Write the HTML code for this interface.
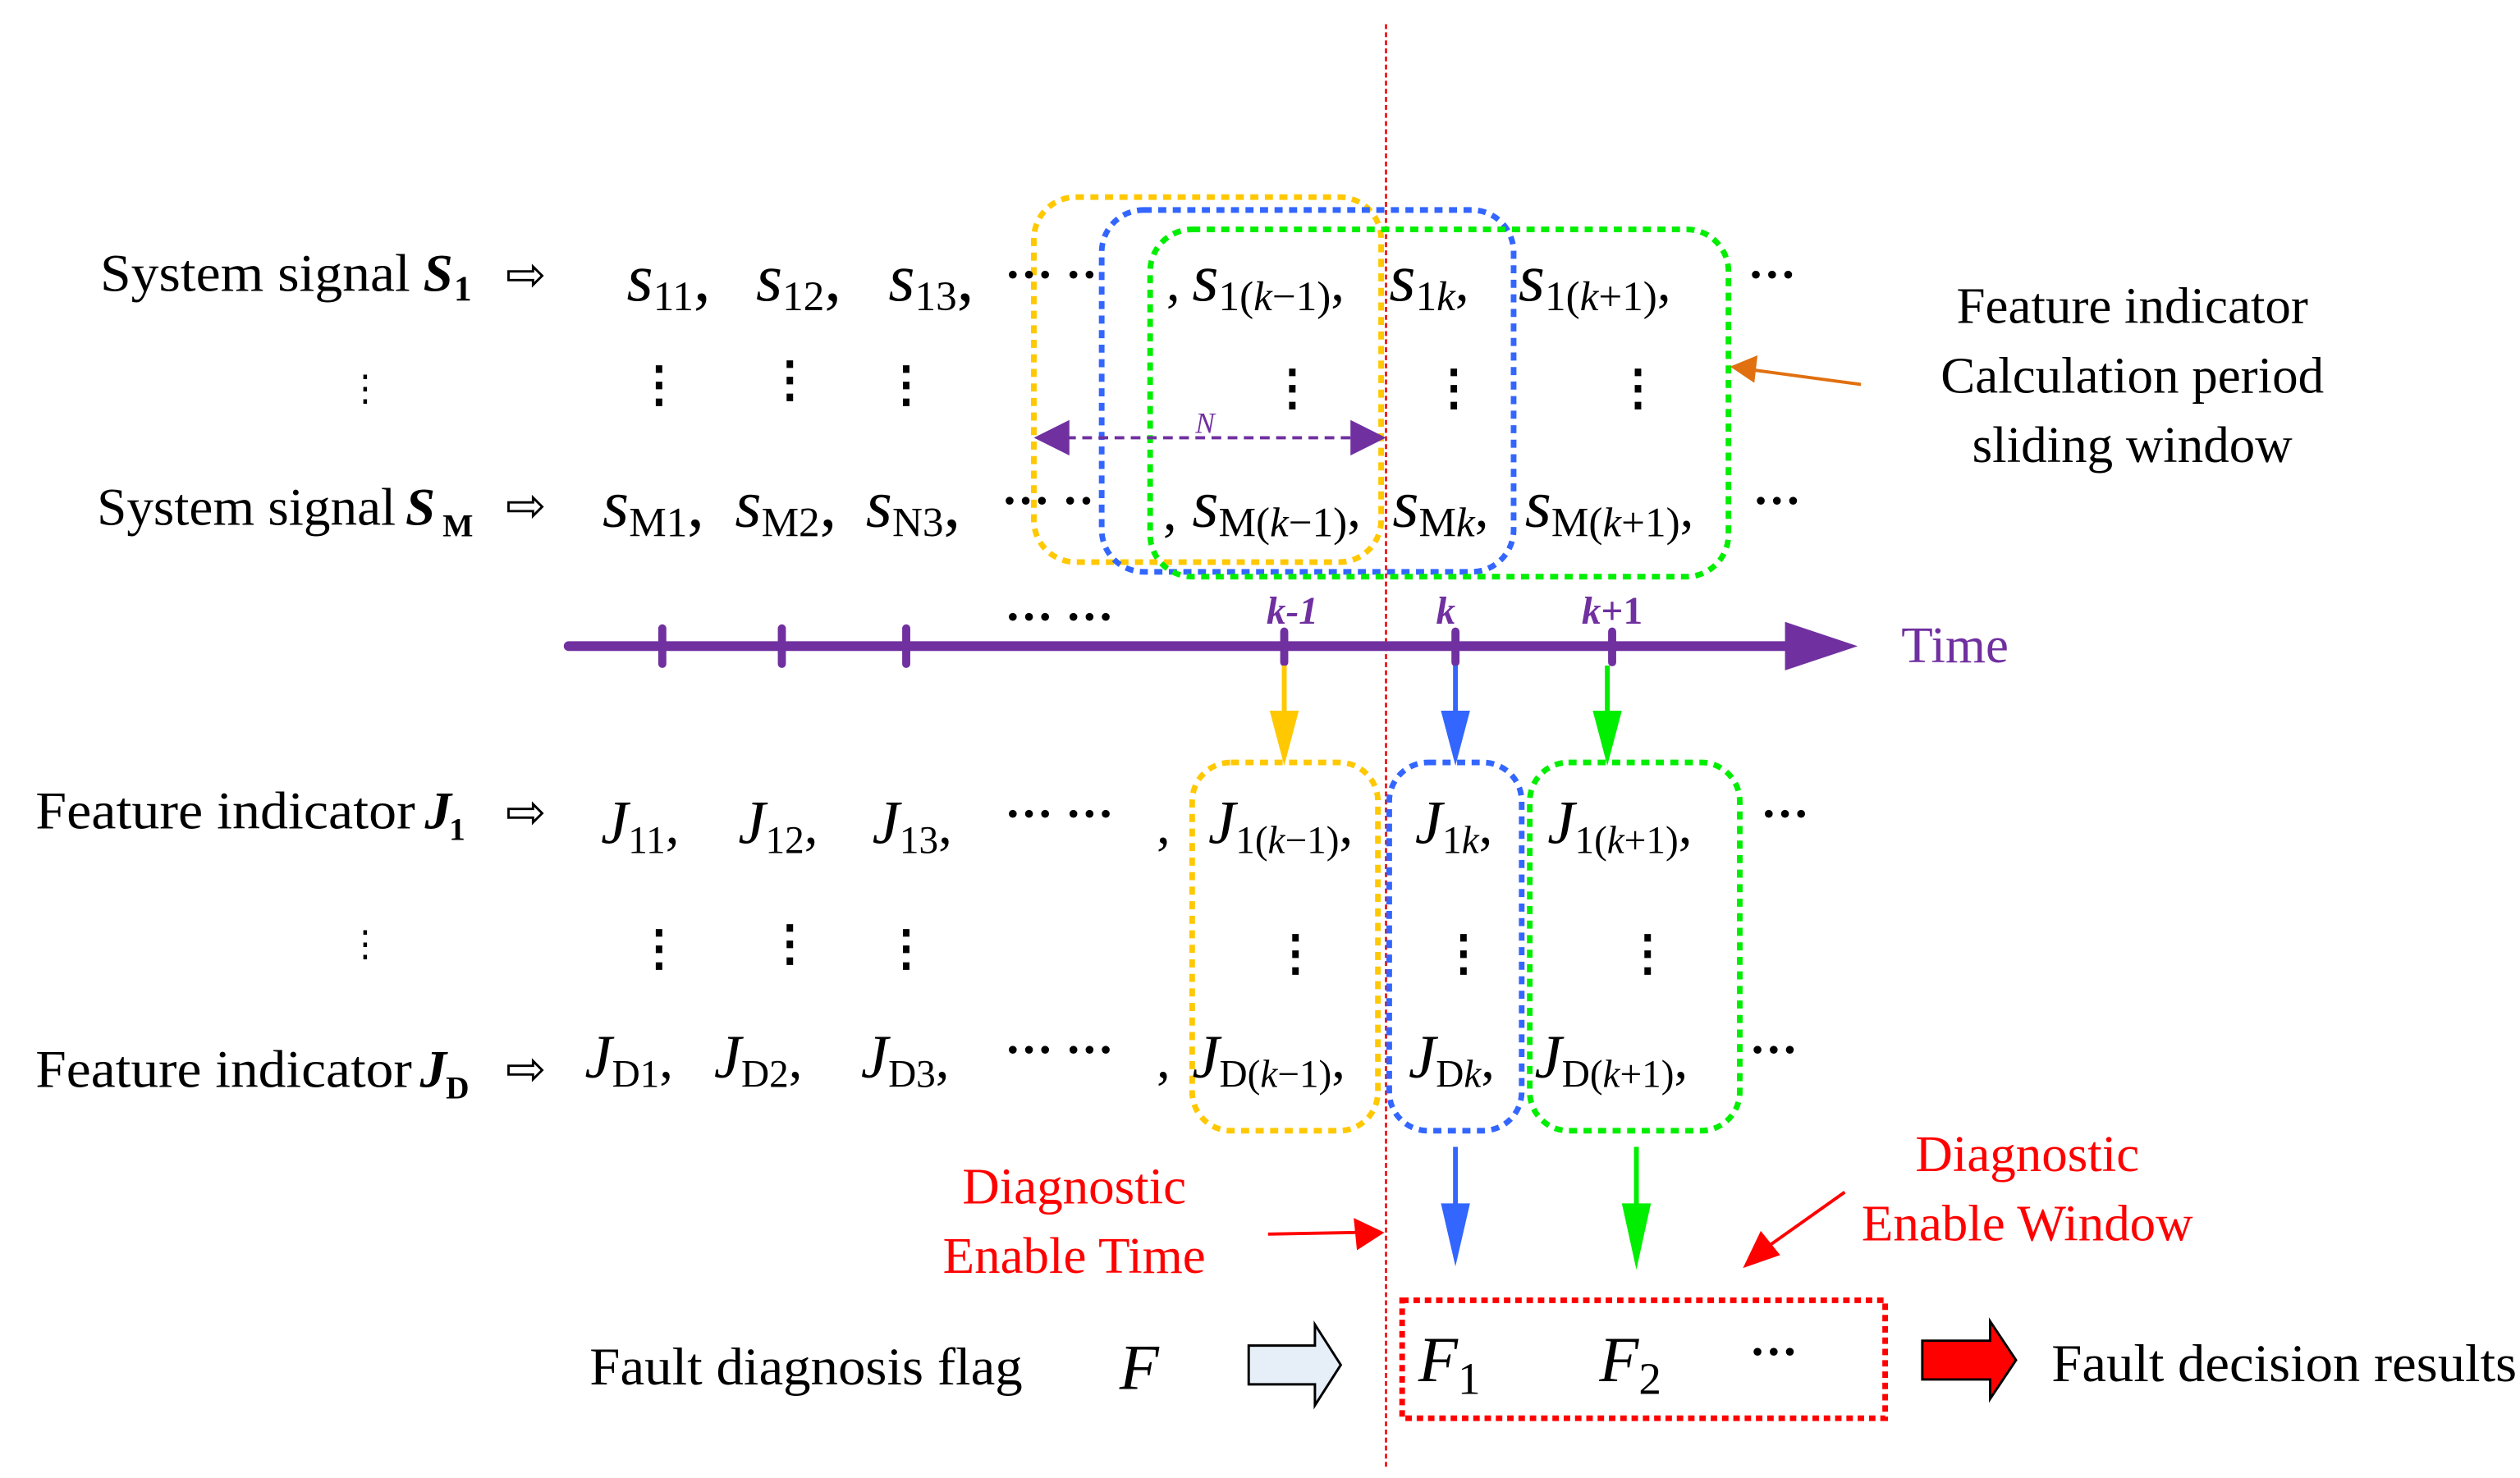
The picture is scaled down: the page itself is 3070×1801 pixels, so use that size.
<!DOCTYPE html>
<html><head><meta charset="utf-8"><style>
html,body{margin:0;padding:0;background:#fff;}
svg{display:block;}
text{font-family:"Liberation Serif",serif;}
</style></head><body>
<svg width="3070" height="1801" viewBox="0 0 1560 915" preserveAspectRatio="none" xmlns="http://www.w3.org/2000/svg">
<!-- red vertical dotted line -->
<line x1="858" y1="15" x2="858" y2="908" stroke="#e00" stroke-width="1.3" stroke-dasharray="3,2"/>

<!-- sliding windows -->
<rect x="640" y="122" width="215" height="226" rx="26" fill="none" stroke="#ffc800" stroke-width="3.5" stroke-dasharray="5,4"/>
<rect x="682" y="130" width="255" height="224" rx="26" fill="none" stroke="#3366ff" stroke-width="3.5" stroke-dasharray="5,4"/>
<rect x="712" y="142" width="358" height="215" rx="26" fill="none" stroke="#00ee00" stroke-width="3.5" stroke-dasharray="5,4"/>

<!-- N arrow -->
<line x1="660" y1="271" x2="838" y2="271" stroke="#7030a0" stroke-width="2" stroke-dasharray="6,4"/>
<polygon points="640,271 662,260 662,282" fill="#7030a0"/>
<polygon points="858,271 836,260 836,282" fill="#7030a0"/>
<text x="746" y="268" font-size="18" font-style="italic" fill="#7030a0" text-anchor="middle">N</text>

<!-- orange arrow -->
<line x1="1152" y1="238" x2="1085" y2="229" stroke="#e07010" stroke-width="2"/>
<polygon points="1071,227 1088,220 1086,237" fill="#e07010"/>

<!-- left labels S -->
<text x="62" y="180" font-size="33" textLength="192" lengthAdjust="spacingAndGlyphs">System signal</text>
<text x="262" y="180" font-size="33" font-weight="bold" font-style="italic">S</text><text x="281" y="186" font-size="22" font-weight="bold">1</text>
<text x="60" y="325" font-size="33" textLength="185" lengthAdjust="spacingAndGlyphs">System signal</text>
<text x="251" y="325" font-size="33" font-weight="bold" font-style="italic">S</text><text x="274" y="332" font-size="20" font-weight="bold">M</text>
<text x="313" y="180" font-size="30">⇨</text>
<text x="313" y="323" font-size="30">⇨</text>
<text x="215" y="248" font-size="22">⋮</text>

<!-- s row 1 -->
<g font-size="42">
<text x="388" y="186"><tspan font-style="italic">s</tspan><tspan font-size="26" dy="6">11</tspan><tspan dy="-6">,</tspan></text>
<text x="468" y="186"><tspan font-style="italic">s</tspan><tspan font-size="26" dy="6">12</tspan><tspan dy="-6">,</tspan></text>
<text x="550" y="186"><tspan font-style="italic">s</tspan><tspan font-size="26" dy="6">13</tspan><tspan dy="-6">,</tspan></text>
<text x="622" y="180" font-weight="bold" font-size="30">··· ··</text>
<text x="722" y="186" font-size="34">,</text>
<text x="738" y="186"><tspan font-style="italic">s</tspan><tspan font-size="26" dy="6">1(</tspan><tspan font-size="26" font-style="italic">k</tspan><tspan font-size="26">−1)</tspan><tspan font-size="34" dy="-6">,</tspan></text>
<text x="860" y="186"><tspan font-style="italic">s</tspan><tspan font-size="26" dy="6">1</tspan><tspan font-size="26" font-style="italic">k</tspan><tspan font-size="34" dy="-6">,</tspan></text>
<text x="940" y="186"><tspan font-style="italic">s</tspan><tspan font-size="26" dy="6">1(</tspan><tspan font-size="26" font-style="italic">k</tspan><tspan font-size="26">+1)</tspan><tspan font-size="34" dy="-6">,</tspan></text>
<text x="1082" y="180" font-weight="bold" font-size="30">···</text>
</g>
<g font-size="30" font-weight="bold">
<text x="393" y="248">⋮</text><text x="474" y="245">⋮</text><text x="546" y="248">⋮</text>
<text x="785" y="250">⋮</text><text x="885" y="250">⋮</text><text x="999" y="250">⋮</text>
</g>
<!-- s row M -->
<g font-size="42">
<text x="373" y="326"><tspan font-style="italic">s</tspan><tspan font-size="26" dy="6">M1</tspan><tspan dy="-6">,</tspan></text>
<text x="455" y="326"><tspan font-style="italic">s</tspan><tspan font-size="26" dy="6">M2</tspan><tspan dy="-6">,</tspan></text>
<text x="536" y="326"><tspan font-style="italic">s</tspan><tspan font-size="26" dy="6">N3</tspan><tspan dy="-6">,</tspan></text>
<text x="620" y="320" font-weight="bold" font-size="30">··· ··</text>
<text x="720" y="328" font-size="34">,</text>
<text x="738" y="326"><tspan font-style="italic">s</tspan><tspan font-size="26" dy="6">M(</tspan><tspan font-size="26" font-style="italic">k</tspan><tspan font-size="26">−1)</tspan><tspan font-size="34" dy="-6">,</tspan></text>
<text x="862" y="326"><tspan font-style="italic">s</tspan><tspan font-size="26" dy="6">M</tspan><tspan font-size="26" font-style="italic">k</tspan><tspan font-size="34" dy="-6">,</tspan></text>
<text x="944" y="326"><tspan font-style="italic">s</tspan><tspan font-size="26" dy="6">M(</tspan><tspan font-size="26" font-style="italic">k</tspan><tspan font-size="26">+1)</tspan><tspan font-size="34" dy="-6">,</tspan></text>
<text x="1085" y="320" font-weight="bold" font-size="30">···</text>
</g>

<!-- right text -->
<g font-size="32" text-anchor="middle">
<text x="1320" y="200">Feature indicator</text>
<text x="1320" y="243">Calculation period</text>
<text x="1320" y="286">sliding window</text>
</g>

<!-- time axis -->
<line x1="352" y1="400" x2="1110" y2="400" stroke="#7030a0" stroke-width="6" stroke-linecap="round"/>
<polygon points="1105,385 1150,400 1105,415" fill="#7030a0"/>
<g stroke="#7030a0" stroke-width="5" stroke-linecap="round">
<line x1="410" y1="389" x2="410" y2="411"/><line x1="484" y1="389" x2="484" y2="411"/><line x1="561" y1="389" x2="561" y2="411"/>
<line x1="795" y1="391" x2="795" y2="410"/><line x1="901" y1="391" x2="901" y2="410"/><line x1="998" y1="391" x2="998" y2="410"/>
</g>
<text x="622" y="392" font-weight="bold" font-size="30">··· ···</text>
<g fill="#7030a0" font-size="24" font-weight="bold" font-style="italic" text-anchor="middle">
<text x="800" y="386">k-1</text><text x="895" y="386">k</text><text x="998" y="386"><tspan>k</tspan><tspan font-style="normal">+1</tspan></text>
</g>
<text x="1177" y="410" font-size="32" fill="#7030a0">Time</text>

<!-- down arrows -->
<line x1="795" y1="412" x2="795" y2="445" stroke="#ffc800" stroke-width="3"/>
<polygon points="786,440 804,440 795,474" fill="#ffc800"/>
<line x1="901" y1="412" x2="901" y2="445" stroke="#3366ff" stroke-width="3"/>
<polygon points="892,440 910,440 901,474" fill="#3366ff"/>
<line x1="995" y1="412" x2="995" y2="445" stroke="#00ee00" stroke-width="3"/>
<polygon points="986,440 1004,440 995,474" fill="#00ee00"/>

<!-- J boxes -->
<rect x="738" y="472" width="115" height="228" rx="24" fill="none" stroke="#ffc800" stroke-width="3.5" stroke-dasharray="5,4"/>
<rect x="860" y="472" width="82" height="228" rx="24" fill="none" stroke="#3366ff" stroke-width="3.5" stroke-dasharray="5,4"/>
<rect x="947" y="472" width="130" height="228" rx="24" fill="none" stroke="#00ee00" stroke-width="3.5" stroke-dasharray="5,4"/>

<!-- J labels -->
<text x="22" y="513" font-size="33" textLength="235" lengthAdjust="spacingAndGlyphs">Feature indicator</text>
<text x="263" y="513" font-size="33" font-weight="bold" font-style="italic">J</text><text x="278" y="520" font-size="20" font-weight="bold">1</text>
<text x="22" y="673" font-size="33" textLength="233" lengthAdjust="spacingAndGlyphs">Feature indicator</text>
<text x="260" y="673" font-size="33" font-weight="bold" font-style="italic">J</text><text x="276" y="680" font-size="20" font-weight="bold">D</text>
<text x="313" y="513" font-size="30">⇨</text>
<text x="313" y="672" font-size="30">⇨</text>
<text x="215" y="592" font-size="22">⋮</text>

<g font-size="38">
<text x="372" y="522"><tspan font-style="italic">J</tspan><tspan font-size="24" dy="6">11</tspan><tspan font-size="34" dy="-6">,</tspan></text>
<text x="457" y="522"><tspan font-style="italic">J</tspan><tspan font-size="24" dy="6">12</tspan><tspan font-size="34" dy="-6">,</tspan></text>
<text x="540" y="522"><tspan font-style="italic">J</tspan><tspan font-size="24" dy="6">13</tspan><tspan font-size="34" dy="-6">,</tspan></text>
<text x="622" y="514" font-weight="bold" font-size="30">··· ···</text>
<text x="716" y="522" font-size="34">,</text>
<text x="748" y="522"><tspan font-style="italic">J</tspan><tspan font-size="24" dy="6">1(</tspan><tspan font-size="24" font-style="italic">k</tspan><tspan font-size="24">−1)</tspan><tspan font-size="34" dy="-6">,</tspan></text>
<text x="876" y="522"><tspan font-style="italic">J</tspan><tspan font-size="24" dy="6">1</tspan><tspan font-size="24" font-style="italic">k</tspan><tspan font-size="34" dy="-6">,</tspan></text>
<text x="958" y="522"><tspan font-style="italic">J</tspan><tspan font-size="24" dy="6">1(</tspan><tspan font-size="24" font-style="italic">k</tspan><tspan font-size="24">+1)</tspan><tspan font-size="34" dy="-6">,</tspan></text>
<text x="1090" y="514" font-weight="bold" font-size="30">···</text>

<text x="362" y="667"><tspan font-style="italic">J</tspan><tspan font-size="24" dy="6">D1</tspan><tspan font-size="34" dy="-6">,</tspan></text>
<text x="442" y="667"><tspan font-style="italic">J</tspan><tspan font-size="24" dy="6">D2</tspan><tspan font-size="34" dy="-6">,</tspan></text>
<text x="533" y="667"><tspan font-style="italic">J</tspan><tspan font-size="24" dy="6">D3</tspan><tspan font-size="34" dy="-6">,</tspan></text>
<text x="622" y="660" font-weight="bold" font-size="30">··· ···</text>
<text x="716" y="667" font-size="34">,</text>
<text x="738" y="667"><tspan font-style="italic">J</tspan><tspan font-size="24" dy="6">D(</tspan><tspan font-size="24" font-style="italic">k</tspan><tspan font-size="24">−1)</tspan><tspan font-size="34" dy="-6">,</tspan></text>
<text x="872" y="667"><tspan font-style="italic">J</tspan><tspan font-size="24" dy="6">D</tspan><tspan font-size="24" font-style="italic">k</tspan><tspan font-size="34" dy="-6">,</tspan></text>
<text x="950" y="667"><tspan font-style="italic">J</tspan><tspan font-size="24" dy="6">D(</tspan><tspan font-size="24" font-style="italic">k</tspan><tspan font-size="24">+1)</tspan><tspan font-size="34" dy="-6">,</tspan></text>
<text x="1083" y="660" font-weight="bold" font-size="30">···</text>
</g>
<g font-size="30" font-weight="bold">
<text x="393" y="597">⋮</text><text x="474" y="594">⋮</text><text x="546" y="597">⋮</text>
<text x="787" y="600">⋮</text><text x="891" y="600">⋮</text><text x="1005" y="600">⋮</text>
</g>

<!-- lower arrows -->
<line x1="901" y1="710" x2="901" y2="750" stroke="#3366ff" stroke-width="3"/>
<polygon points="892,745 910,745 901,784" fill="#3366ff"/>
<line x1="1013" y1="710" x2="1013" y2="750" stroke="#00ee00" stroke-width="3"/>
<polygon points="1004,745 1022,745 1013,786" fill="#00ee00"/>

<!-- red annotations -->
<g fill="#ff0000" font-size="32" text-anchor="middle">
<text x="665" y="745">Diagnostic</text>
<text x="665" y="788">Enable Time</text>
<text x="1255" y="725">Diagnostic</text>
<text x="1255" y="768">Enable Window</text>
</g>
<line x1="785" y1="764" x2="840" y2="763" stroke="#f00" stroke-width="2"/>
<polygon points="857,763 838,754 840,774" fill="#f00"/>
<line x1="1142" y1="738" x2="1094" y2="772" stroke="#f00" stroke-width="2"/>
<polygon points="1079,785 1090,762 1102,777" fill="#f00"/>

<!-- bottom row -->
<text x="365" y="857" font-size="33" textLength="268" lengthAdjust="spacingAndGlyphs">Fault diagnosis flag</text>
<text x="693" y="860" font-size="40" font-style="italic">F</text>
<polygon points="773,833 814,833 814,820 830,845 814,870 814,857 773,857" fill="#e6eef8" stroke="#000" stroke-width="1.5"/>
<rect x="868" y="805" width="299" height="73" fill="none" stroke="#f00" stroke-width="3.5" stroke-dasharray="4,3"/>
<text x="878" y="855" font-size="40"><tspan font-style="italic">F</tspan><tspan font-size="28" dy="8">1</tspan></text>
<text x="990" y="855" font-size="40"><tspan font-style="italic">F</tspan><tspan font-size="28" dy="8">2</tspan></text>
<text x="1083" y="847" font-weight="bold" font-size="30">···</text>
<polygon points="1190,830 1232,830 1232,818 1248,842 1232,866 1232,854 1190,854" fill="#ff0000" stroke="#000" stroke-width="1.5"/>
<text x="1270" y="855" font-size="33" textLength="288" lengthAdjust="spacingAndGlyphs">Fault decision results</text>
</svg>
</body></html>
